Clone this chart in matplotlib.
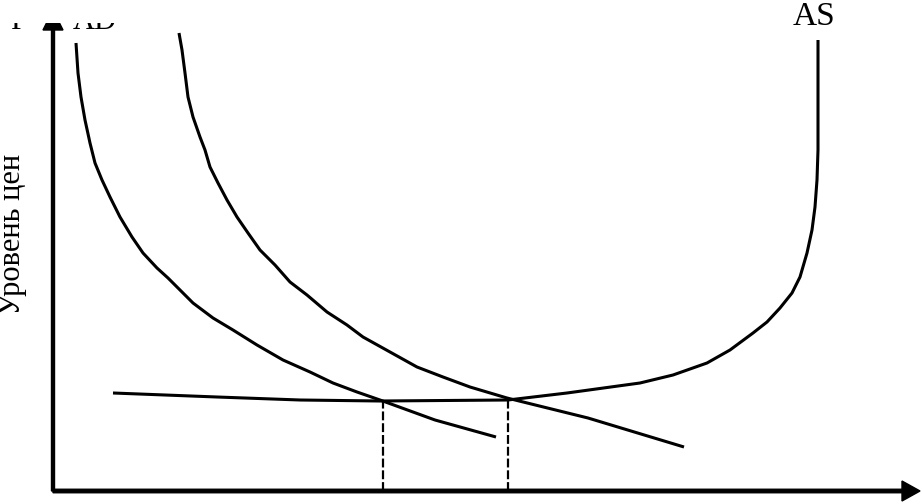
import matplotlib
matplotlib.use('Agg')
import matplotlib.pyplot as plt
from matplotlib.patches import Rectangle

#curves (quantity, price), origin where the axes meet
ad1_q = [23, 25, 28, 32, 37, 42, 49, 57, 67, 79, 90, 104, 115, 124, 140, 160, 180, 204, 230, 257, 280, 304, 327, 382, 443]
ad1_p = [448, 418, 394, 371, 348, 328, 311, 294, 274, 254, 238, 223, 213, 204, 188, 173, 161, 146, 131, 119, 108, 99, 91, 71, 54]

ad2_q = [126, 129, 132, 135, 140, 147, 152, 157, 165, 174, 184, 195, 207, 222, 237, 254, 274, 294, 310, 337, 364, 390, 417, 454, 535, 631]
ad2_p = [458, 441, 418, 394, 374, 354, 341, 324, 308, 291, 274, 258, 241, 226, 209, 196, 179, 166, 154, 139, 124, 114, 104, 93, 73, 44]

as_q = [60, 164, 247, 327, 455, 514, 587, 620, 654, 677, 700, 714, 727, 739, 747, 754, 759, 762, 764, 765, 765, 765]
as_p = [98, 94, 91, 90, 91, 98, 108, 116, 128, 141, 158, 169, 183, 198, 214, 238, 261, 284, 311, 341, 391, 451]

#equilibrium points (AD1 x AS, AD2 x AS)
eq_q = [330, 455]
eq_p = [91, 91]

plt.rcParams['font.family'] = ['Liberation Serif', 'DejaVu Serif']

fig = plt.figure(figsize=(9.22, 5.04), dpi=100)
ax = fig.add_axes([0, 0, 1, 1])
ax.set_xlim(-53, 869)
ax.set_ylim(-13, 491)
ax.axis('off')

#axes with arrows
ax.arrow(0, 0, 867, 0, width=3.5, head_width=20, head_length=18,
         length_includes_head=True, fc='k', ec='k', zorder=3)
ax.arrow(0, 0, 0, 481, width=3, head_width=20, head_length=20,
         length_includes_head=True, fc='k', ec='k', zorder=3)

#curves
ax.plot(ad1_q, ad1_p, color='k', lw=2.2, solid_capstyle='butt', solid_joinstyle='round')
ax.plot(ad2_q, ad2_p, color='k', lw=2.2, solid_capstyle='butt', solid_joinstyle='round')
ax.plot(as_q, as_p, color='k', lw=2.2, solid_capstyle='butt', solid_joinstyle='round')

#dotted drop lines
for q, p in zip(eq_q, eq_p):
    ax.plot([q, q], [0, p], color='k', lw=1.6, dashes=(4, 1.3))

#labels
ax.text(761, 466, 'AS', fontsize=24, ha='center', va='baseline')
ax.text(-43, 462, 'P', fontsize=22, ha='left', va='baseline')
ax.text(42, 462, 'AD', fontsize=22, ha='center', va='baseline')
ax.text(-40, 257, 'Уровень цен', fontsize=22, rotation=90, ha='center', va='center')

#top-left of the scan is blank, the labels there are cut
ax.add_patch(Rectangle((-60, 468), 230, 40, fc='white', ec='none', zorder=10))

fig.savefig('out.png', dpi=100)
